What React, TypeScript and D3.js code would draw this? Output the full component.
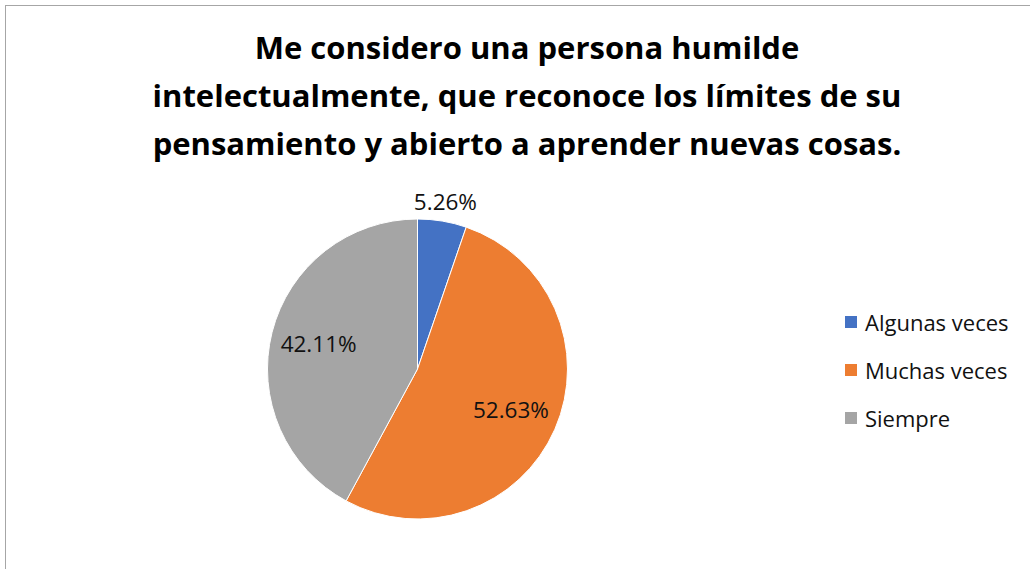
import React from "react";
import * as d3 from "d3";

const titleLines = [
  "Me considero una persona humilde",
  "intelectualmente, que reconoce los límites de su",
  "pensamiento y abierto a aprender nuevas cosas.",
];
const categories = ["Algunas veces", "Muchas veces", "Siempre"];
const values = [1, 10, 8];
const labels = ["5.26%", "52.63%", "42.11%"];
const colors = ["#4472C4", "#ED7D31", "#A5A5A5"];

const W = 1030;
const H = 569;

export default function App() {
  const cx = 417.5;
  const cy = 369;
  const r = 150;
  const total = d3.sum(values);
  const pie = d3.pie<number>().sort(null).value((d) => d)(values);
  const arc = d3.arc<d3.PieArcDatum<number>>().innerRadius(0).outerRadius(r);
  const inLabel = d3.arc<d3.PieArcDatum<number>>().innerRadius(r * 0.68).outerRadius(r * 0.68);
  const outLabel = d3.arc<d3.PieArcDatum<number>>().innerRadius(r * 1.13).outerRadius(r * 1.13);
  const font = "'Open Sans', sans-serif";

  return (
    <svg
      width={W}
      height={H}
      style={{ position: "absolute", left: 0, top: 0, background: "#fff" }}
    >
      <rect x={5.5} y={5.5} width={1100} height={700} fill="#fff" stroke="#a6a6a6" strokeWidth={1} />
      {titleLines.map((t, i) => (
        <text
          key={i}
          x={527}
          y={59 + i * 48}
          textAnchor="middle"
          fontFamily={font}
          fontWeight="bold"
          fontSize={31}
          fill="#000"
        >
          {t}
        </text>
      ))}
      <g transform={`translate(${cx},${cy})`}>
        {pie.map((d, i) => (
          <path key={i} d={arc(d) || ""} fill={colors[i]} stroke="#fff" strokeWidth={1} />
        ))}
        {pie.map((d, i) => {
          const outside = d.value / total < 0.1;
          const [x, y] = (outside ? outLabel : inLabel).centroid(d);
          return (
            <text
              key={"l" + i}
              x={x}
              y={y}
              textAnchor="middle"
              dominantBaseline="central"
              fontFamily={font}
              fontSize={22.5}
              fill="#111"
            >
              {labels[i]}
            </text>
          );
        })}
      </g>
      {categories.map((c, i) => (
        <g key={c} transform={`translate(845,${322 + i * 48})`}>
          <rect x={0} y={-6} width={12} height={12} fill={colors[i]} />
          <text x={20} y={0} dominantBaseline="central" fontFamily={font} fontSize={22} fill="#111">
            {c}
          </text>
        </g>
      ))}
    </svg>
  );
}
